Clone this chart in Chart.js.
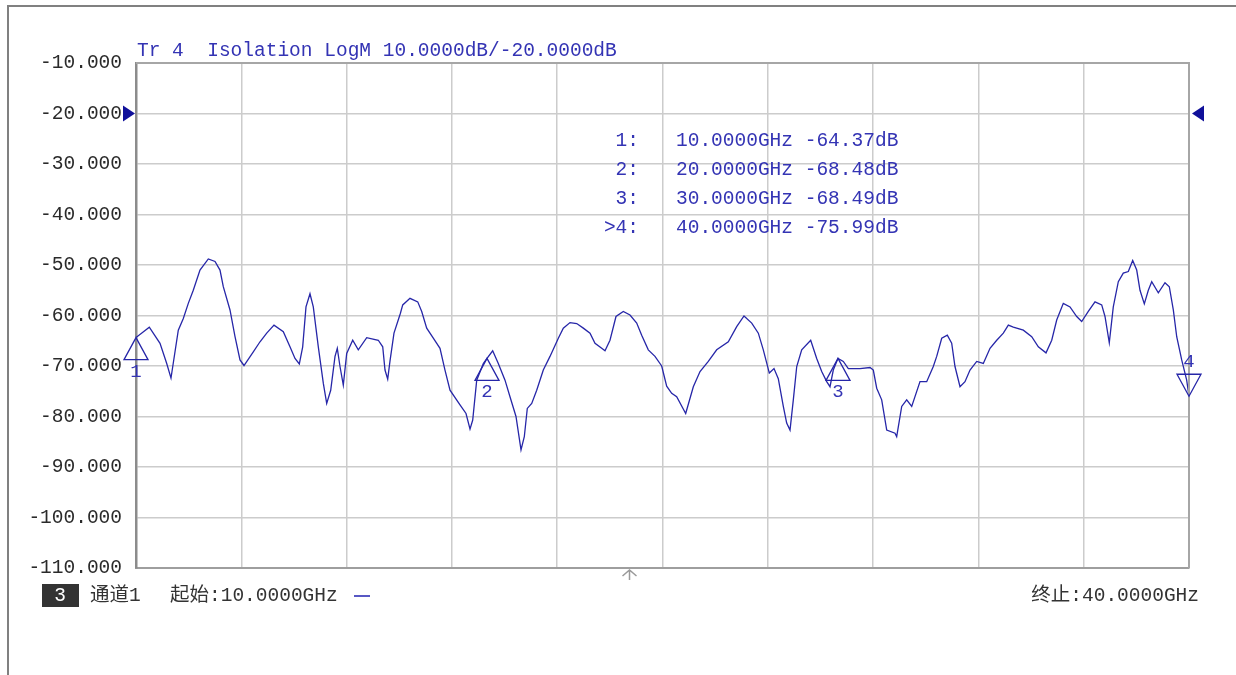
<!DOCTYPE html>
<html>
<head>
<meta charset="utf-8">
<script src="https://cdn.jsdelivr.net/npm/chart.js@4.4.1/dist/chart.umd.min.js"></script>
<style>
  html, body { margin: 0; padding: 0; background: #fff; }
  #chart { display: block; }
</style>
</head>
<body>
<canvas id="chart" width="1236" height="675"></canvas>
<script>
// trace (GHz / dB)
const freqGHz = [
  10.000, 10.379, 10.684, 10.875, 10.997, 11.205, 11.348, 11.490, 11.632, 11.823,
  12.060, 12.251, 12.393, 12.487, 12.678, 12.821, 12.963, 13.077, 13.342, 13.533,
  13.724, 13.932, 14.197, 14.387, 14.530, 14.653, 14.749, 14.843, 14.957, 15.051,
  15.194, 15.336, 15.433, 15.547, 15.670, 15.735, 15.812, 15.906, 16.003, 16.174,
  16.333, 16.573, 16.903, 17.029, 17.094, 17.171, 17.237, 17.350, 17.531, 17.599,
  17.806, 18.027, 18.140, 18.282, 18.470, 18.661, 18.803, 18.946, 19.231, 19.402,
  19.516, 19.593, 19.707, 19.895, 20.000, 20.162, 20.322, 20.513, 20.655, 20.826,
  20.969, 21.063, 21.148, 21.274, 21.416, 21.604, 21.795, 22.032, 22.174, 22.365,
  22.556, 22.744, 22.935, 23.077, 23.268, 23.362, 23.504, 23.675, 23.883, 24.074,
  24.265, 24.407, 24.595, 24.786, 24.977, 25.119, 25.262, 25.404, 25.661, 25.878,
  26.069, 26.305, 26.544, 26.875, 27.114, 27.322, 27.542, 27.730, 27.872, 28.043,
  28.177, 28.299, 28.442, 28.538, 28.633, 28.727, 28.824, 28.966, 29.222, 29.393,
  29.536, 29.678, 29.772, 29.866, 30.000, 30.151, 30.294, 30.627, 30.912, 31.006,
  31.103, 31.245, 31.388, 31.624, 31.672, 31.815, 31.957, 32.100, 32.336, 32.527,
  32.715, 32.812, 32.955, 33.114, 33.239, 33.333, 33.476, 33.618, 33.761, 33.952,
  34.140, 34.331, 34.522, 34.710, 34.853, 34.995, 35.280, 35.519, 35.707, 35.926,
  36.089, 36.231, 36.419, 36.610, 36.801, 36.943, 37.131, 37.322, 37.513, 37.607,
  37.729, 37.843, 37.986, 38.128, 38.271, 38.396, 38.510, 38.604, 38.727, 38.841,
  38.938, 39.126, 39.316, 39.439, 39.553, 39.650, 39.792, 39.934, 40.000
];
const isolationDb = [
  -64.37, -62.3, -65.5, -69.5, -72.4, -62.9, -60.6, -57.6, -55.0, -51.0,
  -48.8, -49.3, -51.0, -54.3, -58.9, -64.2, -68.8, -69.9, -67.2, -65.2,
  -63.5, -61.9, -63.2, -66.2, -68.5, -69.6, -66.2, -58.3, -55.7, -58.3,
  -66.2, -73.4, -77.4, -74.8, -68.1, -66.5, -70.1, -73.8, -67.5, -64.9,
  -66.8, -64.4, -64.9, -66.2, -70.8, -72.6, -69.0, -63.5, -59.6, -57.9,
  -56.6, -57.3, -59.2, -62.5, -64.5, -66.5, -70.8, -74.8, -77.7, -79.4,
  -82.5, -80.7, -72.8, -69.5, -68.48, -67.0, -69.5, -72.8, -76.1, -80.0,
  -86.6, -84.0, -78.4, -77.4, -74.8, -70.8, -68.1, -64.5, -62.5, -61.4,
  -61.6, -62.5, -63.5, -65.5, -66.5, -67.0, -64.9, -60.2, -59.2, -59.9,
  -61.5, -63.9, -66.8, -68.1, -70.0, -74.0, -75.4, -76.1, -79.4, -74.1,
  -71.1, -69.1, -66.8, -65.2, -62.2, -60.1, -61.5, -63.5, -66.8, -71.4,
  -70.5, -72.5, -78.0, -81.3, -82.7, -76.7, -70.1, -66.8, -64.9, -68.5,
  -71.1, -73.1, -74.1, -70.8, -68.49, -69.1, -70.5, -70.5, -70.3, -70.8,
  -74.4, -76.7, -82.7, -83.3, -84.0, -78.0, -76.7, -78.0, -73.1, -73.1,
  -70.1, -68.1, -64.5, -63.9, -65.5, -70.1, -74.1, -73.1, -70.8, -69.1,
  -69.5, -66.5, -64.9, -63.5, -61.9, -62.3, -62.9, -64.2, -66.2, -67.4,
  -64.9, -60.9, -57.6, -58.3, -60.2, -61.2, -59.2, -57.3, -57.9, -60.2,
  -65.4, -58.3, -53.3, -51.6, -51.3, -49.1, -51.0, -55.0, -57.7, -55.0,
  -53.3, -55.5, -53.5, -54.3, -58.9, -64.2, -68.8, -72.8, -75.99
];

const markerNames = ["1", "2", "3", "4"];
const markerFreq = [10, 20, 30, 40];
const markerVal = [-64.37, -68.48, -68.49, -75.99];
const activeMarker = 3;

const yMin = -110, yMax = -10, yStep = 10;
const startGHz = 10, stopGHz = 40, xStep = 3;
const refLevel = -20;
const stimArrowGHz = 24.06;

const titleText = "Tr 4  Isolation LogM 10.0000dB/-20.0000dB";
const channelText = "通道1";
const startText = "起始:10.0000GHz";
const stopText = "终止:40.0000GHz";

const MONO = '"Liberation Mono", "Noto Sans CJK SC", monospace';
const BLUE = "#3434b4";
const TRACE = "#2626a8";

const vnaDecor = {
  id: "vnaDecor",
  afterDraw(chart) {
    const ctx = chart.ctx, ca = chart.chartArea;
    const xs = chart.scales.x, ys = chart.scales.y;
    ctx.save();

    // outer window frame
    ctx.strokeStyle = "#808080"; ctx.lineWidth = 2;
    ctx.beginPath(); ctx.moveTo(8, 675); ctx.lineTo(8, 6); ctx.lineTo(1236, 6); ctx.stroke();

    // plot frame (right/top)
    ctx.strokeStyle = "#a6a6a6"; ctx.lineWidth = 2;
    ctx.beginPath();
    ctx.moveTo(ca.left, ca.top); ctx.lineTo(ca.right, ca.top); ctx.lineTo(ca.right, ca.bottom);
    ctx.stroke();

    // title
    ctx.font = "19.5px " + MONO;
    ctx.fillStyle = BLUE; ctx.textAlign = "left"; ctx.textBaseline = "middle";
    ctx.fillText(titleText, 137, 51);

    // marker table
    markerNames.forEach((n, i) => {
      const y = 141 + i * 29;
      ctx.textAlign = "right";
      ctx.fillText((i === activeMarker ? ">" : "") + n + ":", 639, y);
      ctx.textAlign = "left";
      ctx.fillText(markerFreq[i].toFixed(4) + "GHz " + markerVal[i].toFixed(2) + "dB", 676, y);
    });

    // marker triangles
    ctx.strokeStyle = TRACE; ctx.lineWidth = 1.3;
    ctx.font = "19px " + MONO;
    markerNames.forEach((n, i) => {
      const px = xs.getPixelForValue(markerFreq[i]);
      const py = ys.getPixelForValue(markerVal[i]);
      const dir = i === activeMarker ? -1 : 1;
      ctx.beginPath();
      ctx.moveTo(px, py); ctx.lineTo(px - 12, py + dir * 22); ctx.lineTo(px + 12, py + dir * 22);
      ctx.closePath(); ctx.stroke();
      ctx.fillStyle = BLUE; ctx.textAlign = "center";
      ctx.fillText(n, px, py + dir * 34);
    });

    // reference level arrows
    const ry = ys.getPixelForValue(refLevel);
    ctx.fillStyle = "#10109a";
    ctx.beginPath(); ctx.moveTo(ca.left - 1, ry); ctx.lineTo(ca.left - 13, ry - 8); ctx.lineTo(ca.left - 13, ry + 8); ctx.fill();
    ctx.beginPath(); ctx.moveTo(ca.right + 3, ry); ctx.lineTo(ca.right + 15, ry - 8); ctx.lineTo(ca.right + 15, ry + 8); ctx.fill();

    // stimulus arrow under the grid
    const sx = xs.getPixelForValue(stimArrowGHz);
    ctx.strokeStyle = "#9a9a9a"; ctx.lineWidth = 1.5;
    ctx.beginPath();
    ctx.moveTo(sx, ca.bottom + 2); ctx.lineTo(sx, ca.bottom + 12);
    ctx.moveTo(sx - 7, ca.bottom + 8); ctx.lineTo(sx, ca.bottom + 2); ctx.lineTo(sx + 7, ca.bottom + 8);
    ctx.stroke();

    // status line
    const by = 596;
    ctx.fillStyle = "#333"; ctx.fillRect(42, 584, 37, 23);
    ctx.font = "19.5px " + MONO; ctx.textAlign = "center"; ctx.fillStyle = "#fff";
    ctx.fillText("3", 60, by);
    ctx.fillStyle = "#333"; ctx.textAlign = "left";
    ctx.fillText(channelText, 90, by);
    ctx.fillText(startText, 170, by);
    ctx.strokeStyle = "#2020b0"; ctx.lineWidth = 1.5;
    ctx.beginPath(); ctx.moveTo(354, by); ctx.lineTo(370, by); ctx.stroke();
    ctx.textAlign = "right";
    ctx.fillText(stopText, 1199, by);

    ctx.restore();
  }
};

new Chart(document.getElementById("chart").getContext("2d"), {
  type: "line",
  data: {
    datasets: [{
      label: "Isolation",
      data: freqGHz.map((f, i) => ({ x: f, y: isolationDb[i] })),
      borderColor: TRACE,
      borderWidth: 1.3,
      pointRadius: 0,
      tension: 0,
      fill: false
    }]
  },
  options: {
    responsive: false,
    animation: false,
    layout: { padding: { left: 0, top: 63, right: 47, bottom: 0 } },
    plugins: { legend: { display: false }, tooltip: { enabled: false }, title: { display: false } },
    scales: {
      x: {
        type: "linear", min: startGHz, max: stopGHz,
        ticks: { display: false, stepSize: xStep },
        grid: { color: "#cccccc", lineWidth: 1.5, drawTicks: false },
        border: { color: "#9e9e9e", width: 2 },
        afterFit(s) { s.height = 107; }
      },
      y: {
        min: yMin, max: yMax,
        ticks: {
          stepSize: yStep, padding: 14, color: "#2a2a2a",
          font: { family: MONO, size: 19.5 },
          callback: v => v.toFixed(3)
        },
        grid: { color: "#cccccc", lineWidth: 1.5, drawTicks: false },
        border: { color: "#8c8c8c", width: 2.5 },
        afterFit(s) { s.width = 136; }
      }
    }
  },
  plugins: [vnaDecor]
});
</script>
</body>
</html>
